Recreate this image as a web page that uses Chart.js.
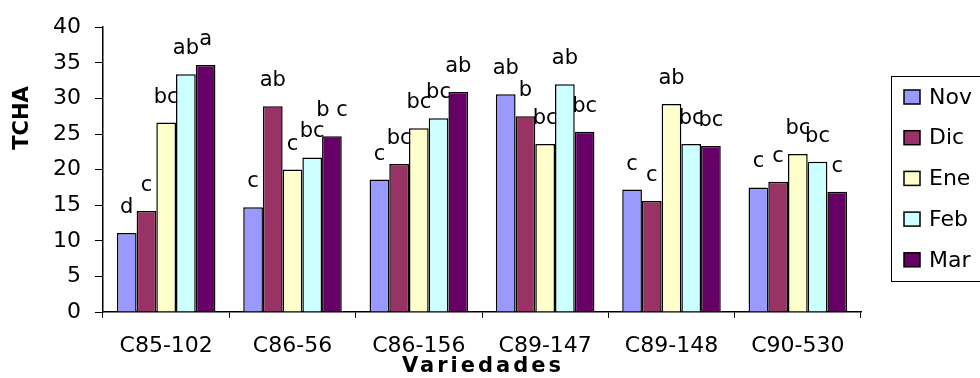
<!DOCTYPE html>
<html>
<head>
<meta charset="utf-8">
<title>TCHA por variedad</title>
<script src="https://cdn.jsdelivr.net/npm/chart.js@4.4.1/dist/chart.umd.min.js"></script>
<style>
  html, body { margin: 0; padding: 0; background: #fff; }
  #wrap { width: 980px; height: 378px; }
</style>
</head>
<body>
<div id="wrap"><canvas id="tchaChart" width="980" height="378"></canvas></div>
<script>
// data
const varieties = ["C85-102", "C86-56", "C86-156", "C89-147", "C89-148", "C90-530"];
const months = ["Nov", "Dic", "Ene", "Feb", "Mar"];

const nov = [11.1, 14.7, 18.6, 30.6, 17.2, 17.5];
const dic = [14.2, 28.9, 20.8, 27.5, 15.6, 18.3];
const ene = [26.6, 20.0, 25.8, 23.6, 29.2, 22.2];
const feb = [33.4, 21.7, 27.2, 32.0, 23.6, 21.1];
const mar = [34.7, 24.7, 30.9, 25.3, 23.3, 16.9];

// significance letters above each bar
const novLetters = ["d", "c", "c", "ab", "c", "c"];
const dicLetters = ["c", "ab", "bc", "b", "c", "c"];
const eneLetters = ["bc", "c", "bc", "bc", "ab", "bc"];
const febLetters = ["ab", "bc", "bc", "ab", "bc", "bc"];
const marLetters = ["a", "b c", "ab", "bc", "bc", "c"];

const yMin = 0;
const yMax = 40;
const yStep = 5;

const yTitle = "TCHA";
const xTitle = "Variedades";

const seriesValues = [nov, dic, ene, feb, mar];
const seriesLetters = [novLetters, dicLetters, eneLetters, febLetters, marLetters];
const seriesColors = ["#9999FF", "#993366", "#FFFFCC", "#CCFFFF", "#660066"];

const FONT = "'DejaVu Sans', Verdana, sans-serif";

// letters over the bars
const letterLabels = {
    id: "letterLabels",
    afterDatasetsDraw(chart) {
        const ctx = chart.ctx;
        ctx.save();
        ctx.font = "21px " + FONT;
        ctx.fillStyle = "#000";
        ctx.textAlign = "center";
        ctx.textBaseline = "alphabetic";
        chart.data.datasets.forEach((ds, i) => {
            const meta = chart.getDatasetMeta(i);
            meta.data.forEach((bar, j) => {
                const txt = seriesLetters[i][j];
                if (txt) ctx.fillText(txt, bar.x, bar.y - 20);
            });
        });
        ctx.restore();
    }
};

// axis titles + boxed legend, placed like the original
const extras = {
    id: "extras",
    afterDraw(chart) {
        const ctx = chart.ctx;
        const area = chart.chartArea;
        ctx.save();
        ctx.fillStyle = "#000";

        // y title, rotated
        ctx.font = "bold 21px " + FONT;
        ctx.textAlign = "center";
        ctx.textBaseline = "middle";
        ctx.translate(23, 118);
        ctx.rotate(-Math.PI / 2);
        ctx.fillText(yTitle, 0, 0);
        ctx.setTransform(1, 0, 0, 1, 0, 0);

        // x title, spaced out
        ctx.font = "bold 21px " + FONT;
        if ("letterSpacing" in ctx) ctx.letterSpacing = "3px";
        ctx.textAlign = "center";
        ctx.textBaseline = "middle";
        ctx.fillText(xTitle, (area.left + area.right) / 2 + 1, 367);
        if ("letterSpacing" in ctx) ctx.letterSpacing = "0px";

        // legend box (runs off the right edge like the original)
        const boxX = 891, boxY = 76, boxH = 205;
        ctx.strokeStyle = "#000";
        ctx.lineWidth = 1;
        ctx.strokeRect(boxX + 0.5, boxY + 0.5, 150, boxH);
        ctx.font = "22px " + FONT;
        ctx.textAlign = "left";
        ctx.textBaseline = "middle";
        chart.data.datasets.forEach((ds, i) => {
            const cy = 97 + i * 40.7;
            ctx.fillStyle = ds.backgroundColor;
            ctx.fillRect(904, cy - 7, 16, 14);
            ctx.lineWidth = 1.5;
            ctx.strokeRect(904, cy - 7, 16, 14);
            ctx.fillStyle = "#000";
            ctx.fillText(ds.label, 929, cy + 1);
        });
        ctx.restore();
    }
};

const ctx = document.getElementById("tchaChart").getContext("2d");

new Chart(ctx, {
    type: "bar",
    data: {
        labels: varieties,
        datasets: months.map((m, i) => ({
            label: m,
            data: seriesValues[i],
            backgroundColor: seriesColors[i],
            borderColor: "#000",
            borderWidth: 1.5,
            categoryPercentage: 0.78,
            barPercentage: 1.0
        }))
    },
    options: {
        responsive: false,
        devicePixelRatio: 1,
        animation: false,
        layout: { padding: { top: 24, right: 119, left: 0, bottom: 0 } },
        plugins: {
            legend: { display: false },
            tooltip: { enabled: false }
        },
        scales: {
            x: {
                afterFit: (scale) => { scale.height = 66; },
                grid: {
                    display: true,
                    offset: true,
                    drawOnChartArea: false,
                    drawTicks: true,
                    tickLength: 6,
                    color: "#000"
                },
                border: { color: "#000", width: 1.5 },
                ticks: {
                    color: "#000",
                    font: { family: FONT, size: 22 },
                    padding: 15,
                    maxRotation: 0,
                    autoSkip: false
                }
            },
            y: {
                min: yMin,
                max: yMax,
                afterFit: (scale) => { scale.width = 103; },
                grid: {
                    display: true,
                    drawOnChartArea: false,
                    drawTicks: true,
                    tickLength: 8,
                    color: "#000"
                },
                border: { color: "#000", width: 1.5 },
                ticks: {
                    stepSize: yStep,
                    color: "#000",
                    font: { family: FONT, size: 22 },
                    padding: 14
                }
            }
        }
    },
    plugins: [letterLabels, extras]
});
</script>
</body>
</html>
